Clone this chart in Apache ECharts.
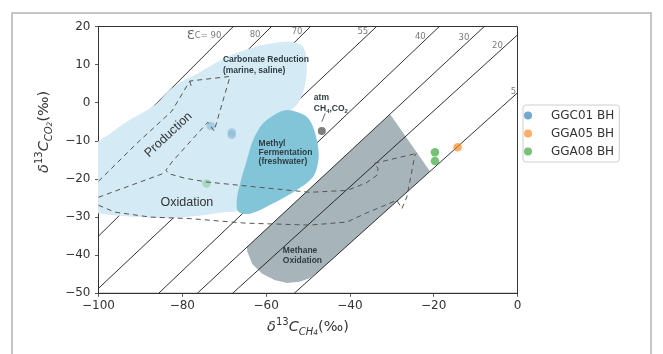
<!DOCTYPE html>
<html>
<head>
<meta charset="utf-8">
<script src="https://cdn.jsdelivr.net/npm/echarts@6/dist/echarts.min.js"></script>
<style>
  html, body { margin: 0; padding: 0; background: #fff; }
  #chart { width: 663px; height: 354px; }
</style>
</head>
<body>
<div id="chart"></div>
<script>
// δ13C of methane vs δ13C of CO2, with carbon isotope fractionation lines (ε_C)
// and the classic genetic fields for methane production / oxidation.

const xTicks = [-100, -80, -60, -40, -20, 0];
const yTicks = [-50, -40, -30, -20, -10, 0, 10, 20];

// Fractionation lines: label, slope and CO2 value where δ13C-CH4 = 0
const epsLabels = [90, 80, 70, 55, 40, 30, 20, 5];
const epsSlopes = [1.10, 1.087, 1.087, 1.035, 1.045, 1.022, 0.997, 0.987];
const epsIntercepts = [94.6, 83.8, 73.7, 54.8, 39.5, 28.1, 17.8, 2.6];

// Borehole gas samples [δ13C-CH4, δ13C-CO2]
const ggc01 = [[-73.2, -6.1], [-68.2, -7.8], [-68.2, -8.4]];
const gga05 = [[-14.3, -11.7]];
const gga08 = [[-19.7, -13.0], [-19.7, -15.3], [-74.2, -21.2]];
const atmosphere = [[-46.7, -7.4]];

// Field outlines
const carbonateField = [
  [-104, -11.5], [-100, -10.1], [-93.7, -5.3], [-86.5, -0.6], [-82.5, 3.8], [-75.8, 8.0],
  [-68.6, 12.3], [-62.6, 14.6], [-57.9, 15.7], [-53.8, 15.9], [-51.4, 14.9], [-50.5, 12.3],
  [-50.4, 7.3], [-51.2, 2.8], [-52.6, -0.4], [-54.8, -2.5], [-59.1, -7.2], [-63.8, -17.7],
  [-66.2, -25.6], [-66.7, -28.2], [-69.8, -28.7], [-75.8, -29.6], [-82.9, -30.2],
  [-90.1, -30.0], [-96.1, -29.5], [-100, -29.0], [-104, -28.8]
];
const methylField = [
  [-55.1, -1.9], [-52.7, -2.4], [-50.5, -3.5], [-48.8, -6.3], [-47.5, -12.4], [-47.8, -16.8],
  [-49.1, -19.9], [-52.7, -22.9], [-58.3, -26.4], [-63.8, -29.1], [-66.6, -28.6], [-67.0, -25.6],
  [-66.2, -21.2], [-64.6, -15.1], [-63.1, -9.8], [-60.7, -5.4], [-57.5, -2.8]
];
const methaneOxField = [
  [-30.4, -3.0], [-20.9, -18.0], [-47.7, -44.5], [-49.5, -46.0], [-52.0, -47.0], [-55.0, -47.3],
  [-58.0, -46.5], [-61.0, -44.8], [-63.3, -42.3], [-64.5, -39.0], [-64.6, -37.9]
];

// Dashed field boundaries
const productionBoundary = [
  [-100, -20.6], [-90.8, -10.6], [-82.5, -2.2], [-78.2, 5.7], [-68.6, 6.9], [-72.4, -7.4],
  [-73.9, -5.1], [-78.2, -10.3], [-82.5, -15.6], [-83.9, -17.7], [-83.3, -18.6], [-79.4, -19.8],
  [-74.1, -20.8], [-61.5, -22.2], [-49.5, -23.5], [-40.7, -23.0], [-36.2, -21.1], [-33.5, -19.0],
  [-33.3, -17.2], [-34.2, -15.9], [-24.1, -13.3]
];
const productionTick = [[-78.2, 5.7], [-77.8, 4.0]];
const oxidationUpper = [[-100, -24.8], [-83.9, -18.3]];
const oxidationLower = [
  [-100, -26.9], [-96.1, -28.7], [-87.7, -30.0], [-78.2, -30.4], [-64.8, -31.6], [-49.5, -32.1],
  [-40.7, -31.3], [-36.2, -29.0], [-28.8, -25.6], [-28.5, -26.1], [-27.6, -27.8], [-27.3, -27.3],
  [-26.4, -24.7], [-24.5, -13.8], [-24.1, -13.3]
];

const X0 = xTicks[0], X1 = xTicks[xTicks.length - 1];
const Y0 = yTicks[0], Y1 = yTicks[yTicks.length - 1];

// clip y = m x + c to the plotting window
function clipLine(m, c) {
  const pts = [];
  [X0, X1].forEach(x => { const y = m * x + c; if (y >= Y0 - 1e-9 && y <= Y1 + 1e-9) pts.push([x, y]); });
  [Y0, Y1].forEach(y => { const x = (y - c) / m; if (x >= X0 - 1e-9 && x <= X1 + 1e-9) pts.push([x, y]); });
  pts.sort((a, b) => a[0] - b[0]);
  return [pts[0], pts[pts.length - 1]];
}

const minus = v => (v < 0 ? '\u2212' + Math.abs(v) : String(v));
const FONT = 'DejaVu Sans';
const LABEL_FONT = '"Liberation Sans", Arial, sans-serif';

function polygonSeries(name, pts, fill, z, opacity, smooth) {
  return {
    type: 'custom', name, z, silent: true, clip: true,
    coordinateSystem: 'cartesian2d',
    data: [[X0, Y0]],
    renderItem(params, api) {
      return {
        type: 'polygon',
        shape: { points: pts.map(p => api.coord(p)), smooth },
        style: { fill, opacity }
      };
    }
  };
}

function pathSeries(name, pts, style, z) {
  return {
    type: 'line', name, data: pts, z, silent: true, symbol: 'none',
    showSymbol: false, clip: true, lineStyle: style
  };
}

const dash = { color: '#555', width: 1, type: [5, 4] };

const mathRich = () => ({
  rich: {
    i: { fontFamily: FONT, fontStyle: 'italic', fontSize: 14.5, lineHeight: 20, color: '#333' },
    sup: { fontFamily: FONT, fontSize: 10, lineHeight: 10, verticalAlign: 'top', color: '#333' },
    sub: { fontFamily: FONT, fontStyle: 'italic', fontSize: 10, lineHeight: 10, verticalAlign: 'bottom', color: '#333' },
    ss: { fontFamily: FONT, fontStyle: 'italic', fontSize: 7.5, lineHeight: 6, verticalAlign: 'bottom', color: '#333' },
    n: { fontFamily: FONT, fontSize: 14.5, lineHeight: 20, color: '#333' }
  }
});

const chart = echarts.init(document.getElementById('chart'), null, { renderer: 'canvas' });

const series = [
  polygonSeries('Methane Oxidation', methaneOxField, '#a7b4b9', 1, 1, 0),
  ...epsLabels.map((e, i) => pathSeries('eps' + e, clipLine(epsSlopes[i], epsIntercepts[i]),
    { color: '#1a1a1a', width: 0.9 }, 2)),
  polygonSeries('Carbonate Reduction', carbonateField, '#d4eaf4', 3, 1, 0.35),
  { type: 'scatter', name: 'GGC01 BH', data: ggc01, symbolSize: 8.5, z: 4,
    itemStyle: { color: 'rgba(31,119,180,0.8)' } },
  { type: 'scatter', name: 'GGA05 BH', data: gga05, symbolSize: 8.5, z: 4,
    itemStyle: { color: 'rgba(255,127,14,0.8)' } },
  { type: 'scatter', name: 'GGA08 BH', data: gga08, symbolSize: 8.5, z: 4,
    itemStyle: { color: 'rgba(44,160,44,0.8)' } },
  polygonSeries('Carbonate Reduction veil', carbonateField, '#d4eaf4', 5, 0.6, 0.35),
  polygonSeries('Methyl Fermentation', methylField, '#82c5d9', 6, 1, 0.35),
  pathSeries('production', productionBoundary, dash, 7),
  pathSeries('production tick', productionTick, dash, 7),
  pathSeries('oxidation upper', oxidationUpper, dash, 7),
  pathSeries('oxidation lower', oxidationLower, dash, 7),
  { type: 'scatter', name: 'atm', data: atmosphere, symbolSize: 8, z: 8,
    itemStyle: { color: '#5e5e5e' }, silent: true }
];

chart.setOption({
  animation: false,
  backgroundColor: '#fff',
  grid: { left: 98.5, right: 145.5, top: 26.5, bottom: 60.7, show: true,
    borderColor: '#333', borderWidth: 1, backgroundColor: 'transparent' },
  xAxis: {
    type: 'value', min: X0, max: X1, interval: 20,
    axisLine: { show: true, onZero: false, lineStyle: { color: '#333', width: 1 } },
    axisTick: { show: true, length: 3.5, lineStyle: { color: '#333', width: 0.8 } },
    axisLabel: { fontFamily: FONT, fontSize: 12, color: '#333', margin: 7, formatter: minus },
    splitLine: { show: false },
    name: '{i|δ}{sup|13}{i|C}{sub|CH}{ss|4}{n|(‰)}',
    nameLocation: 'middle', nameGap: 23.5,
    nameTextStyle: mathRich()
  },
  yAxis: {
    type: 'value', min: Y0, max: Y1, interval: 10,
    axisLine: { show: true, onZero: false, lineStyle: { color: '#333', width: 1 } },
    axisTick: { show: true, length: 3.5, lineStyle: { color: '#333', width: 0.8 } },
    axisLabel: { fontFamily: FONT, fontSize: 12, color: '#333', margin: 8, formatter: minus },
    splitLine: { show: false },
    name: '{i|δ}{sup|13}{i|C}{sub|CO}{ss|2}{n|(‰)}',
    nameLocation: 'middle', nameGap: 39.5,
    nameTextStyle: Object.assign(mathRich(), { padding: [0, 0, 0, 56] })
  },
  legend: {
    data: ['GGC01 BH', 'GGA05 BH', 'GGA08 BH'],
    orient: 'vertical', left: 523, top: 105,
    icon: 'circle', itemWidth: 36, itemHeight: 8, itemGap: 5,
    padding: [4, 5, 4, 1],
    borderColor: '#cfcfcf', borderWidth: 1, borderRadius: 3,
    textStyle: { fontFamily: FONT, fontSize: 12, color: '#333', lineHeight: 13 }
  },
  series
});

// ---- annotations placed in data space ----
const toPx = p => chart.convertToPixel({ gridIndex: 0 }, p);
const graphics = [];

// ε labels sit just left of each line, a few pixels below its upper end
const epsLabelDrop = [9.5, 8.5, 5.5, 5.5, 10.5, 11.5, 11, -1];
epsLabels.forEach((e, i) => {
  const seg = clipLine(epsSlopes[i], epsIntercepts[i]);
  const a = toPx(seg[1]), b = toPx(seg[0]);
  const dx = b[0] - a[0], dy = b[1] - a[1];
  const t = epsLabelDrop[i] / dy;
  const x = a[0] + dx * t - 2.5, y = a[1] + dy * t;
  graphics.push({
    type: 'text', x, y, z: 100, silent: true,
    style: {
      text: i === 0 ? '{e|Ɛ}{c|C= ' + e + '}' : String(e),
      align: 'right', verticalAlign: 'middle',
      fontFamily: FONT, fontSize: 8.5, fill: '#7a7a7a',
      rich: {
        e: { fontFamily: FONT, fontSize: 13, fill: '#6a6a6a' },
        c: { fontFamily: FONT, fontSize: 8.5, fill: '#7a7a7a' }
      }
    }
  });
});

const regionText = (pos, text, extra) => {
  const p = toPx(pos);
  graphics.push(Object.assign({
    type: 'text', x: p[0], y: p[1], z: 100, silent: true,
    style: Object.assign({
      text, align: 'left', verticalAlign: 'middle',
      fontFamily: LABEL_FONT, fontWeight: 'bold', fontSize: 8.5, lineHeight: 10.5, fill: '#2f3d44'
    }, extra && extra.style)
  }, extra && extra.el));
};

regionText([-70.3, 9.8], 'Carbonate Reduction\n(marine, saline)');
regionText([-61.8, -13.1], 'Methyl\nFermentation\n(freshwater)', { style: { lineHeight: 9.3 } });
regionText([-56.0, -40.0], 'Methane\nOxidation', { style: { lineHeight: 10 } });
regionText([-48.6, -0.2], '{b|atm}\n{b|CH}{s|4}{b|,CO}{s|2}', {
  style: {
    lineHeight: 11,
    rich: {
      b: { fontFamily: LABEL_FONT, fontWeight: 'bold', fontSize: 8.5, lineHeight: 11, fill: '#2f3d44' },
      s: { fontFamily: LABEL_FONT, fontWeight: 'bold', fontSize: 6, lineHeight: 7, verticalAlign: 'bottom', fill: '#2f3d44' }
    }
  }
});
regionText([-78.9, -26.2], 'Oxidation', {
  style: { align: 'center', fontWeight: 'normal', fontSize: 12.5, fill: '#333' }
});
regionText([-83.3, -8.4], 'Production', {
  style: { align: 'center', fontWeight: 'normal', fontSize: 12.5, fill: '#333' },
  el: { rotation: 43 * Math.PI / 180 }
});

// leader from the atmospheric point to its label
const l0 = toPx([-46.7, -5.0]), l1 = toPx([-45.9, -2.8]);
graphics.push({
  type: 'line', z: 100, silent: true,
  shape: { x1: l0[0], y1: l0[1], x2: l1[0], y2: l1[1] },
  style: { stroke: '#444', lineWidth: 0.8 }
});

// figure frame
graphics.push({
  type: 'rect', z: 0, silent: true,
  shape: { x: 12, y: 13, width: 639, height: 350 },
  style: { fill: 'none', stroke: '#b4b4b4', lineWidth: 1.5 }
});

chart.setOption({ graphic: graphics });
</script>
</body>
</html>
